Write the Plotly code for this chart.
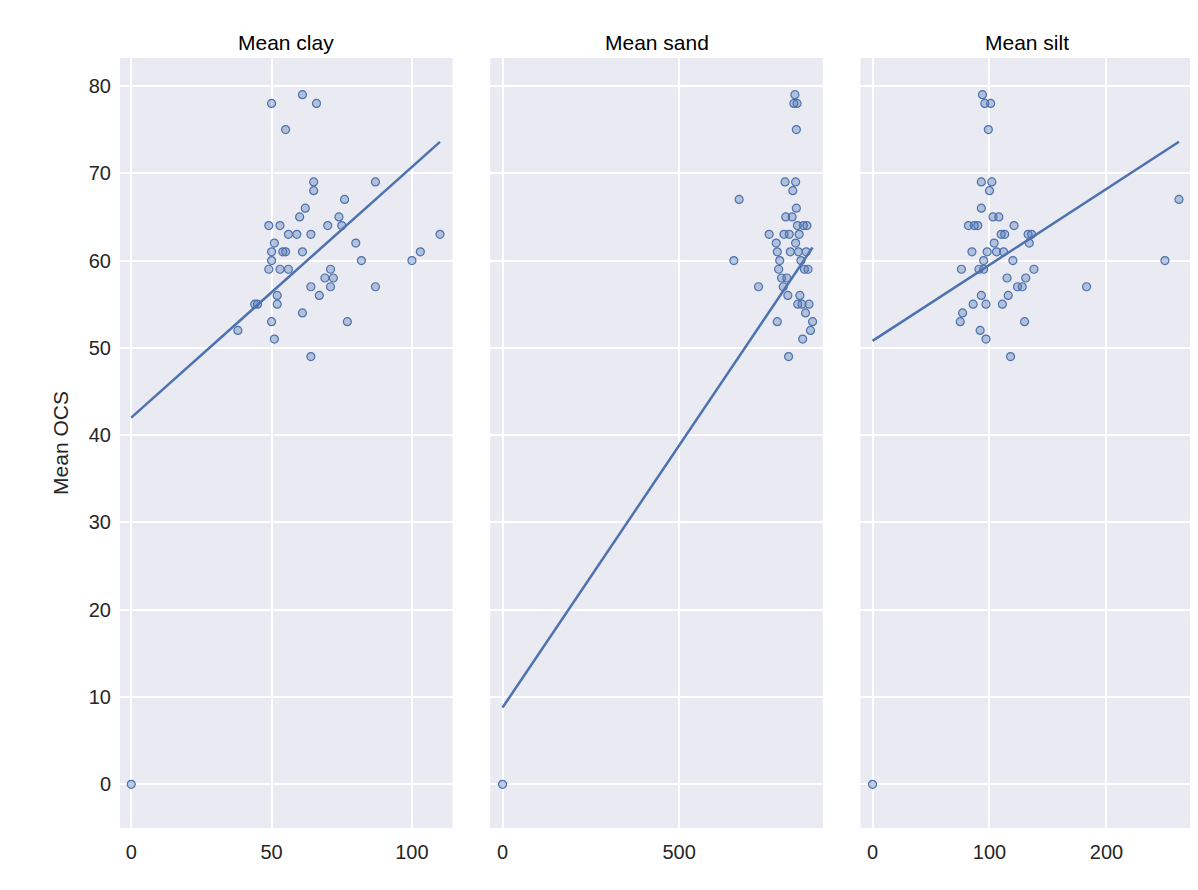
import plotly.graph_objects as go
from plotly.subplots import make_subplots

clay_x = [0, 38, 44, 45, 49, 49, 50, 50, 50, 50, 51, 51, 52, 52, 53, 53, 54, 55, 55, 56, 56, 59, 60, 61, 62, 61, 61, 64, 64, 64, 65, 65, 66, 67, 69, 70, 71, 71, 72, 74, 75, 76, 77, 80, 82, 87, 87, 100, 103, 110]
clay_y = [0, 52, 55, 55, 64, 59, 53, 61, 60, 78, 62, 51, 56, 55, 59, 64, 61, 75, 61, 63, 59, 63, 65, 79, 66, 61, 54, 63, 57, 49, 68, 69, 78, 56, 58, 64, 57, 59, 58, 65, 64, 67, 53, 62, 60, 57, 69, 60, 61, 63]

sand_x = [0, 655, 670, 725, 755, 775, 778, 778, 782, 785, 790, 795, 797, 800, 802, 805, 808, 810, 812, 815, 820, 822, 825, 828, 830, 830, 832, 832, 834, 835, 836, 838, 840, 842, 845, 848, 850, 852, 855, 858, 860, 862, 865, 868, 872, 878]
sand_y = [0, 60, 67, 57, 63, 62, 61, 53, 59, 60, 58, 57, 63, 69, 65, 58, 56, 49, 63, 61, 65, 68, 78, 79, 69, 62, 66, 75, 78, 64, 55, 61, 63, 56, 60, 55, 51, 64, 59, 54, 61, 64, 59, 55, 52, 53]

silt_x = [0, 75, 76, 77, 82, 85, 86, 87, 90, 91, 92, 93, 93, 93, 94, 95, 95, 96, 97, 97, 98, 99, 100, 101, 102, 103, 104, 106, 108, 110, 111, 112, 113, 115, 116, 118, 120, 121, 124, 128, 130, 131, 133, 134, 136, 138, 183, 250, 262]
silt_y = [0, 53, 59, 54, 64, 61, 55, 64, 64, 59, 52, 56, 69, 66, 79, 60, 59, 78, 51, 55, 61, 75, 68, 78, 69, 65, 62, 61, 65, 63, 55, 61, 63, 58, 56, 49, 60, 64, 57, 57, 53, 58, 63, 62, 63, 59, 57, 60, 67]

# fitted line end points
clay_fit_x, clay_fit_y = [0, 110], [42.0, 73.6]
sand_fit_x, sand_fit_y = [0, 878], [8.8, 61.5]
silt_fit_x, silt_fit_y = [0, 262], [50.8, 73.6]

titles = ["Mean clay", "Mean sand", "Mean silt"]
blue = "#4c72b0"

fig = make_subplots(rows=1, cols=3, shared_yaxes=True, horizontal_spacing=0.035,
                    subplot_titles=titles)

panels = [(clay_x, clay_y, clay_fit_x, clay_fit_y),
          (sand_x, sand_y, sand_fit_x, sand_fit_y),
          (silt_x, silt_y, silt_fit_x, silt_fit_y)]
for i, (px_, py_, fx, fy) in enumerate(panels, start=1):
    fig.add_trace(go.Scatter(x=px_, y=py_, mode="markers",
                             marker=dict(size=8, color="rgba(76,114,176,0.35)",
                                         line=dict(color=blue, width=1.2))),
                  row=1, col=i)
    fig.add_trace(go.Scatter(x=fx, y=fy, mode="lines",
                             line=dict(color=blue, width=2.5)), row=1, col=i)

ranges = [[-4, 114.5], [-35, 907], [-10.4, 274]]
dticks = [50, 500, 100]
for i in range(3):
    fig.update_xaxes(range=ranges[i], dtick=dticks[i], row=1, col=i + 1)

fig.update_xaxes(gridcolor="white", gridwidth=1.5, zeroline=False, showline=False,
                 tickfont=dict(size=20, color="#262626"), ticks="", ticklabelstandoff=10)
fig.update_yaxes(range=[-5, 83.2], dtick=10, gridcolor="white", gridwidth=1.5,
                 zeroline=False, tickfont=dict(size=20, color="#262626"), ticks="",
                 ticklabelstandoff=8)
fig.update_yaxes(title_text="Mean OCS", title_font=dict(size=21, color="#262626"),
                 title_standoff=14, row=1, col=1)
for a in fig.layout.annotations:
    a.font = dict(size=21, color="black")
    a.yshift = 2

fig.update_layout(width=1198, height=890, showlegend=False,
                  plot_bgcolor="#eaeaf2", paper_bgcolor="white",
                  font=dict(family="Liberation Sans, Arial"),
                  margin=dict(l=112, r=13, t=50, b=70))
fig.write_html("out.html")
